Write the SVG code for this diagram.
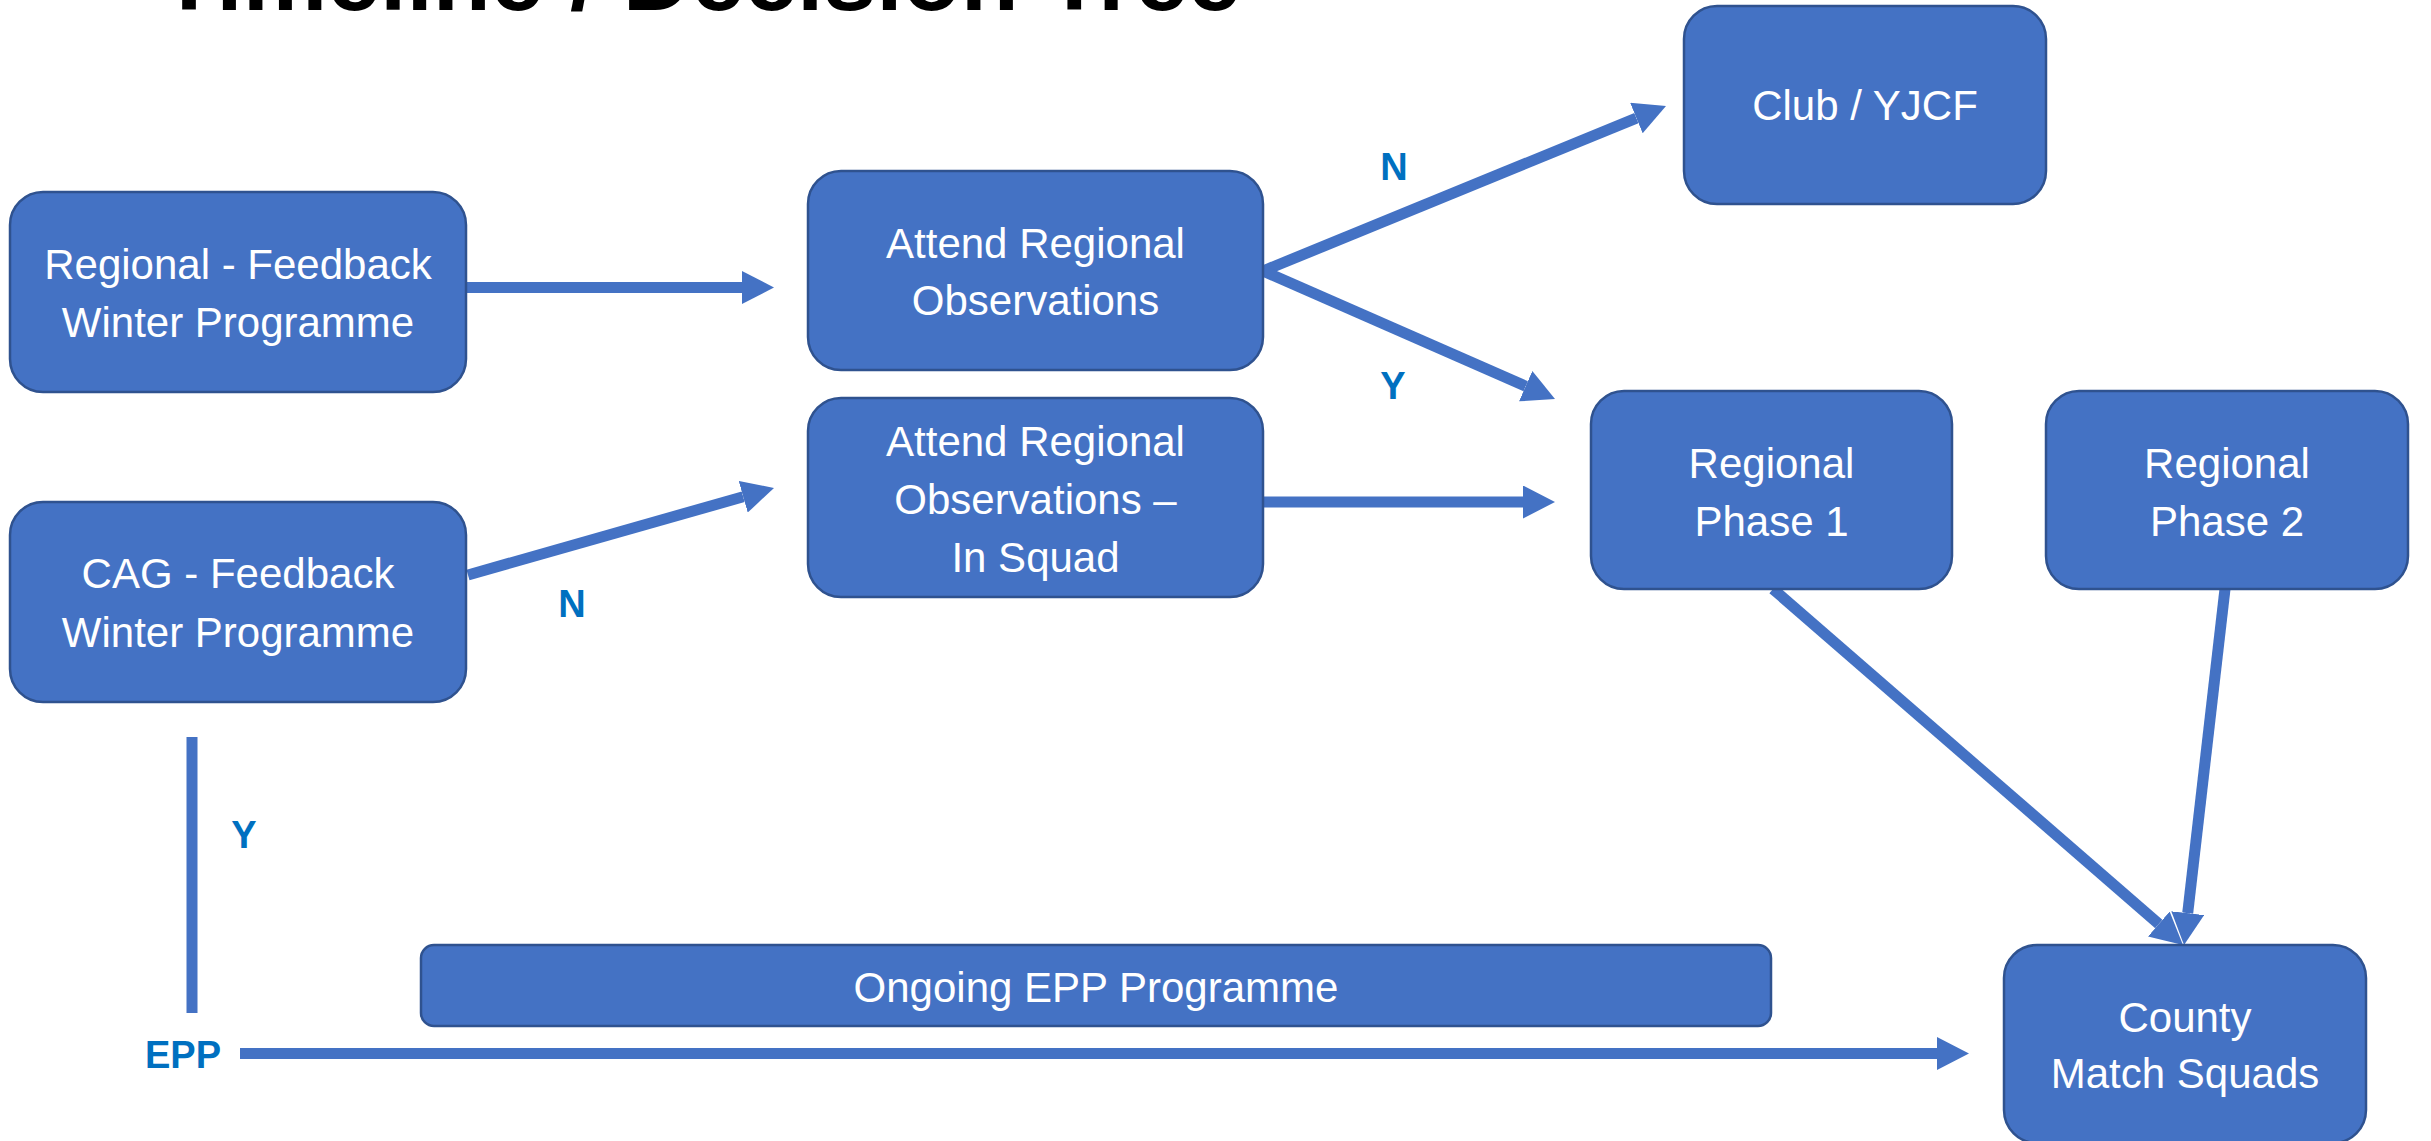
<svg xmlns="http://www.w3.org/2000/svg" width="2431" height="1141" viewBox="0 0 2431 1141">
  <style>
    .box { fill: #4472C4; stroke: #2F528F; stroke-width: 2.5; }
    .bt { fill: #FFFFFF; font-family: "Liberation Sans", Arial, sans-serif; font-size: 42px; text-anchor: middle; }
    .lbl { fill: #0070C0; font-family: "Liberation Sans", Arial, sans-serif; font-size: 38px; font-weight: bold; text-anchor: middle; }
    .title { fill: #000000; font-family: "Liberation Sans", Arial, sans-serif; font-size: 95px; font-weight: bold; }
    .conn { stroke: #4472C4; stroke-width: 11; fill: none; }
  </style>
  <defs>
    <marker id="arrow" markerUnits="userSpaceOnUse" markerWidth="34" markerHeight="34" refX="0" refY="16.5" orient="auto" viewBox="0 0 34 34">
      <path d="M0,0 L32,16.5 L0,33 Z" fill="#4472C4"/>
    </marker>
  </defs>
  <rect width="2431" height="1141" fill="#FFFFFF"/>

  <text class="title" x="160" y="10">Timeline / Decision Tree</text>

  <g id="connectors">
    <path class="conn" d="M467,287.5 L742,287.5" marker-end="url(#arrow)"/>
    <path class="conn" d="M1263,271 L1636.4,118.1" marker-end="url(#arrow)"/>
    <path class="conn" d="M1263,271 L1525.7,386.2" marker-end="url(#arrow)"/>
    <path class="conn" d="M468,575 L743.2,496.75" marker-end="url(#arrow)"/>
    <path class="conn" d="M1263,502 L1523,502" marker-end="url(#arrow)"/>
    <path class="conn" d="M1773,589 L2158.8,924" marker-end="url(#arrow)"/>
    <path class="conn" d="M2225,589 L2187.7,913.2" marker-end="url(#arrow)"/>
    <path class="conn" d="M192,737 L192,1013"/>
    <path class="conn" d="M240,1053.5 L1937,1053.5" marker-end="url(#arrow)"/>
    <text class="lbl" x="1394" y="180">N</text>
    <text class="lbl" x="1393" y="399">Y</text>
    <text class="lbl" x="572" y="617">N</text>
    <text class="lbl" x="244" y="848">Y</text>
    <text class="lbl" x="183" y="1068">EPP</text>
  </g>

  <g id="regional-feedback">
    <rect class="box" x="10" y="192" width="456" height="200" rx="33" ry="33"/>
    <text class="bt" x="238" y="279">Regional - Feedback</text>
    <text class="bt" x="238" y="337">Winter Programme</text>
  </g>

  <g id="cag-feedback">
    <rect class="box" x="10" y="502" width="456" height="200" rx="33" ry="33"/>
    <text class="bt" x="238" y="588">CAG - Feedback</text>
    <text class="bt" x="238" y="647">Winter Programme</text>
  </g>

  <g id="attend-obs">
    <rect class="box" x="808" y="171" width="455" height="199" rx="33" ry="33"/>
    <text class="bt" x="1035.5" y="258">Attend Regional</text>
    <text class="bt" x="1035.5" y="315">Observations</text>
  </g>

  <g id="attend-obs-squad">
    <rect class="box" x="808" y="398" width="455" height="199" rx="33" ry="33"/>
    <text class="bt" x="1035.5" y="456">Attend Regional</text>
    <text class="bt" x="1035.5" y="514">Observations –</text>
    <text class="bt" x="1035.5" y="572">In Squad</text>
  </g>

  <g id="club-yjcf">
    <rect class="box" x="1684" y="6" width="362" height="198" rx="33" ry="33"/>
    <text class="bt" x="1865" y="120">Club / YJCF</text>
  </g>

  <g id="regional-phase-1">
    <rect class="box" x="1591" y="391" width="361" height="198" rx="33" ry="33"/>
    <text class="bt" x="1771.5" y="478">Regional</text>
    <text class="bt" x="1771.5" y="536">Phase 1</text>
  </g>

  <g id="regional-phase-2">
    <rect class="box" x="2046" y="391" width="362" height="198" rx="33" ry="33"/>
    <text class="bt" x="2227" y="478">Regional</text>
    <text class="bt" x="2227" y="536">Phase 2</text>
  </g>

  <g id="ongoing-epp">
    <rect class="box" x="421" y="945" width="1350" height="81" rx="13" ry="13"/>
    <text class="bt" x="1096" y="1002">Ongoing EPP Programme</text>
  </g>

  <g id="county-match-squads">
    <rect class="box" x="2004" y="945" width="362" height="198" rx="33" ry="33"/>
    <text class="bt" x="2185" y="1032">County</text>
    <text class="bt" x="2185" y="1088">Match Squads</text>
  </g>
</svg>
